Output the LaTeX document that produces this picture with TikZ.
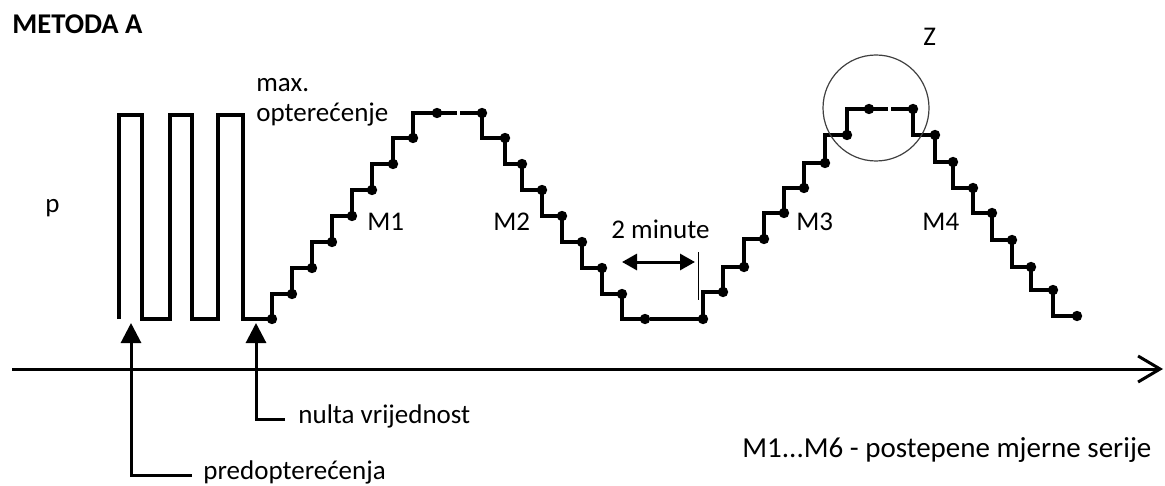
\documentclass[tikz,border=0pt]{standalone}
\usepackage{fontspec}
\setmainfont{Carlito}
\usetikzlibrary{arrows.meta}

\begin{document}
\begin{tikzpicture}[x=0.5pt,y=-0.5pt,
    lbl/.style={font=\fontsize{13.5}{15}\selectfont,inner sep=0pt},
    curve/.style={line width=2.3pt},
    ptr/.style={line width=1.5pt,-{Triangle[length=10pt,width=10pt]}}]
    \def\dotr{2.6pt}
    \useasboundingbox (0,0) rectangle (1165,486);
    % os
    \coordinate (axL) at (12,369);
    \coordinate (axR) at (1163,369);
    \draw[line width=1.5pt,-{Straight Barb[length=11pt,width=13pt,line width=1.5pt]}] (axL) -- (axR);
    % predopterecenja i M1
    \draw[curve] (119,319) |- (142,115) |- (170,319) |- (192,115) |- (218,319) |- (243,115) |- (272,319)
        |- (292,294) |- (312,268) |- (332,242) |- (352,216) |- (372,190) |- (393,164) |- (413,138) |- (457,113);
    % M2
    \draw[curve] (460,113) -- (482,113) |- (505,138) |- (522,164) |- (542,190) |- (562,216) |- (582,242)
        |- (602,268) |- (622,294) |- (646,319);
    % M3
    \draw[curve] (650,319) -- (703,319) |- (723,292) |- (744,267) |- (764,239) |- (784,213) |- (804,188)
        |- (825,163) |- (847,135) |- (888,109);
    % M4
    \draw[curve] (891,109) -- (913,109) |- (935,135) |- (953,162) |- (973,188) |- (992,213) |- (1012,240)
        |- (1031,267) |- (1053,290) |- (1077,316);
    \foreach \x/\y in {272/319,292/294,312/268,332/242,352/216,372/190,393/164,413/138,437/113,
        482/113,505/138,522/164,542/190,562/216,582/242,602/268,622/294,645/319,
        703/319,723/292,744/267,764/239,784/213,804/188,825/163,847/135,869/109,
        913/109,935/135,953/162,973/188,992/213,1012/240,1031/267,1053/290,1077/316}
        \fill (\x,\y) circle(\dotr);
    % Z
    \draw[line width=0.6pt,black!75] (876,108) circle(26.5pt);
    \node[lbl,anchor=base west] (zLbl) at (923,46) {Z};
    % 2 minute
    \coordinate (tL) at (622,262);
    \coordinate (tR) at (695,262);
    \draw[line width=1.5pt,{Triangle[length=7.5pt,width=8pt]}-{Triangle[length=7.5pt,width=8pt]}] (tL) -- (tR);
    \coordinate (tickT) at (698,252);
    \coordinate (tickB) at (698,300);
    \draw[line width=0.5pt] (tickT) -- (tickB);
    \node[lbl,anchor=base west] (twoMin) at (611,238) {2 minute};
    % natpisi
    \node[lbl,anchor=base west,font=\fontsize{14.3}{16}\selectfont\bfseries] (title) at (12,34) {METODA A};
    \node[lbl,anchor=base west] (pLbl) at (45,213) {p};
    \node[lbl,anchor=base west,align=left] (maxLoad) at (256,122) {max.\\opterećenje};
    \node[lbl,anchor=base west] (m1) at (367,230) {M1};
    \node[lbl,anchor=base west] (m2) at (493,230) {M2};
    \node[lbl,anchor=base west] (m3) at (796,230) {M3};
    \node[lbl,anchor=base west] (m4) at (922,230) {M4};
    \node[lbl,anchor=base west,font=\fontsize{14.5}{16}\selectfont] (legend) at (742,457) {M1...M6 - postepene mjerne serije};
    % strelice
    \node[lbl,anchor=mid west] (nulta) at (298,419) {nulta vrijednost};
    \coordinate (nultaTip) at (256,323);
    \draw[ptr,shorten <=6.5pt] (nulta.mid west) -| (nultaTip);
    \node[lbl,anchor=mid west] (predopt) at (203,475) {predopterećenja};
    \coordinate (predoptTip) at (131,323);
    \draw[ptr,shorten <=5.5pt] (predopt.mid west) -| (predoptTip);
\end{tikzpicture}
\end{document}
